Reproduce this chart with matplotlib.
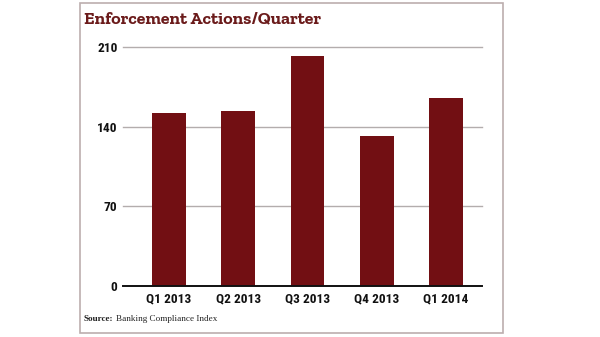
import matplotlib.pyplot as plt
from matplotlib.patches import Rectangle

# Data
quarters = ['Q1 2013', 'Q2 2013', 'Q3 2013', 'Q4 2013', 'Q1 2014']
actions = [152, 154, 202, 132, 165]
y_ticks = [0, 70, 140, 210]

bar_color = '#720f13'
title_color = '#6b1b1b'
grid_color = '#b3adad'

tick_font = ['Roboto Condensed', 'Liberation Sans']
title_font = ['Zilla Slab', 'Liberation Serif']
serif_font = ['Liberation Serif', 'DejaVu Serif']

fig = plt.figure(figsize=(6, 3.37), dpi=100)
fig.patch.set_facecolor('white')

# Outer frame around the chart
fig.patches.append(Rectangle((80 / 600, 4 / 337), 423 / 600, 330 / 337,
                             transform=fig.transFigure, fill=False,
                             edgecolor='#bcaeae', linewidth=1.2))

ax = fig.add_axes([123 / 600, 51 / 337, 359 / 600, 239 / 337])
x = range(len(quarters))
ax.bar(x, actions, width=0.49, color=bar_color, zorder=3)

ax.set_xlim(-0.664, 4.52)
ax.set_ylim(0, 210)
ax.set_yticks(y_ticks)
ax.set_xticks(list(x))
ax.set_xticklabels(quarters)

# Gridlines (not clipped so the top one shows fully)
for t in y_ticks[1:]:
    ax.axhline(t, color=grid_color, linewidth=1.0, zorder=1, clip_on=False)
ax.axhline(0, color='#111111', linewidth=1.4, zorder=4, clip_on=False)

for s in ax.spines.values():
    s.set_visible(False)
ax.tick_params(length=0)
ax.tick_params(axis='y', pad=4)
ax.tick_params(axis='x', pad=5)

for lab in ax.get_xticklabels() + ax.get_yticklabels():
    lab.set_family(tick_font)
    lab.set_fontweight('bold')
    lab.set_fontsize(9.6)
    lab.set_color('#111111')

fig.text(84 / 600, 1 - 19 / 337, 'Enforcement Actions/Quarter',
         family=title_font, fontweight='bold', fontsize=12.8,
         color=title_color, va='center', ha='left')

# Source line: bold label then regular text right after it
src = fig.text(84 / 600, 1 - 319 / 337, 'Source:', family=serif_font,
               fontweight='bold', fontsize=6.6, color='#222222', va='center')
fig.canvas.draw()
bb = src.get_window_extent().transformed(fig.transFigure.inverted())
fig.text(bb.x1 + 2.5 / 600, 1 - 319 / 337, 'Banking Compliance Index',
         family=serif_font, fontsize=6.6, color='#222222', va='center')

fig.savefig('out.png', dpi=100, facecolor='white')
